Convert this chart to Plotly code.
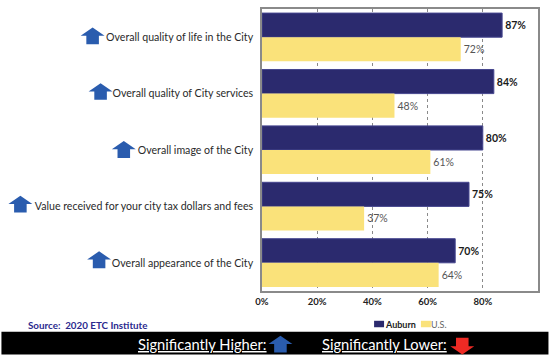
import plotly.graph_objects as go

W, H = 549, 355
LEFT, RIGHT, TOP, BOTTOM = 261.5, 538.5, 7, 291

categories = [
    "Overall quality of life in the City",
    "Overall quality of City services",
    "Overall image of the City",
    "Value received for your city tax dollars and fees",
    "Overall appearance of the City",
]
auburn = [87, 84, 80, 75, 70]
us = [72, 48, 61, 37, 64]

NAVY = "#2B2A6E"
YELLOW = "#FAE27A"
BLUE = "#2A5CAE"
RED = "#EE2A24"
FONT = "Lato"

# Horizontal centre, top and bottom (in page pixels) of the arrow beside each row
row_arrows = [(91.5, 25.7, 42.5), (99.5, 81.7, 98.5), (122.8, 140, 157), (19, 195, 212), (98, 251, 268)]


def pw(x):
    return (x - LEFT) / (RIGHT - LEFT)


def ph(y):
    return 1 - (y - TOP) / (BOTTOM - TOP)


def px(x, y):
    return f"{pw(x):.5f},{ph(y):.5f}"


def arrow(cx, top, bottom, half=12, stem=6.3, color=BLUE, down=False):
    """Block arrow as a closed path on paper coordinates."""
    head = 8.3
    if down:
        pts = [(cx, bottom), (cx - half, bottom - head), (cx - stem, bottom - head), (cx - stem, top),
               (cx + stem, top), (cx + stem, bottom - head), (cx + half, bottom - head)]
    else:
        pts = [(cx, top), (cx - half, top + head), (cx - stem, top + head), (cx - stem, bottom),
               (cx + stem, bottom), (cx + stem, top + head), (cx + half, top + head)]
    path = "M" + " L".join(px(*p) for p in pts) + " Z"
    return dict(type="path", xref="paper", yref="paper", path=path, fillcolor=color, line_width=0, layer="above")


def box(x0, y0, x1, y1, color):
    return dict(type="rect", xref="paper", yref="paper", x0=pw(x0), x1=pw(x1), y0=ph(y0), y1=ph(y1),
                fillcolor=color, line_width=0, layer="above")


def label(x, y, text, size, color, bold=False, anchor="left"):
    return dict(xref="paper", yref="paper", x=pw(x), y=ph(y), text=f"<b>{text}</b>" if bold else text,
                showarrow=False, xanchor=anchor, yanchor="middle", borderpad=0, borderwidth=0,
                font=dict(family=FONT, size=size, color=color))


fig = go.Figure()
fig.add_bar(
    name="Auburn", y=categories, x=auburn, orientation="h",
    marker=dict(color=NAVY, line=dict(color="#46468F", width=1)),
    text=[f"<b>{v}%</b>" for v in auburn], textposition="outside",
    textfont=dict(family=FONT, size=10.5, color="#1a1a1a"), cliponaxis=False,
)
fig.add_bar(
    name="U.S.", y=categories, x=us, orientation="h",
    marker=dict(color=YELLOW, line_width=0),
    text=[f"{v}%" for v in us], textposition="outside",
    textfont=dict(family=FONT, size=10.5, color="#555555"), cliponaxis=False,
)

shapes = [arrow(cx, t, b) for cx, t, b in row_arrows]
shapes += [
    box(0, 332, W, H, "#000000"),
    arrow(280, 336, 353, color=BLUE),
    arrow(462.5, 338, 355, color=RED, down=True),
    box(374, 321, 384, 327.5, NAVY),
    box(421, 321, 431, 327.5, YELLOW),
]

annotations = [
    label(26.5, 325.5, "Source:  2020 ETC Institute", 9.8, "#2B2A8E", bold=True),
    label(384.5, 324.5, "Auburn", 9, "#222222", bold=True),
    label(431.5, 324.5, "U.S.", 9, "#666666"),
    label(137.5, 344, "<u>Significantly Higher:</u>", 14.7, "#FFFFFF"),
    label(321.5, 344, "<u>Significantly Lower:</u>", 14.7, "#FFFFFF"),
]

fig.update_layout(
    width=W, height=H, autosize=False,
    margin=dict(l=LEFT, r=W - RIGHT, t=TOP, b=H - BOTTOM, pad=0),
    paper_bgcolor="#FFFFFF", plot_bgcolor="#FFFFFF",
    barmode="group", bargap=0.145, bargroupgap=0,
    showlegend=False,
    font=dict(family=FONT),
    shapes=shapes, annotations=annotations,
    xaxis=dict(
        range=[0, 100], tickvals=[0, 20, 40, 60, 80, 100], ticktext=[f"{v}%" for v in range(0, 101, 20)],
        showgrid=True, gridcolor="#8A8A8A", griddash="dot", gridwidth=1,
        showline=True, linecolor="#8A8A8A", linewidth=1.5, mirror=True, zeroline=False,
        ticks="", ticklabelstandoff=1, tickfont=dict(family=FONT, size=9.5, color="#222222", weight="bold"),
    ),
    yaxis=dict(
        autorange="reversed", showgrid=False, ticks="", ticklabelstandoff=5,
        showline=True, linecolor="#8A8A8A", linewidth=1.5, mirror=True,
        tickfont=dict(family=FONT, size=10.6, color="#2a2a2a"),
    ),
)

fig.write_html("out.html")
